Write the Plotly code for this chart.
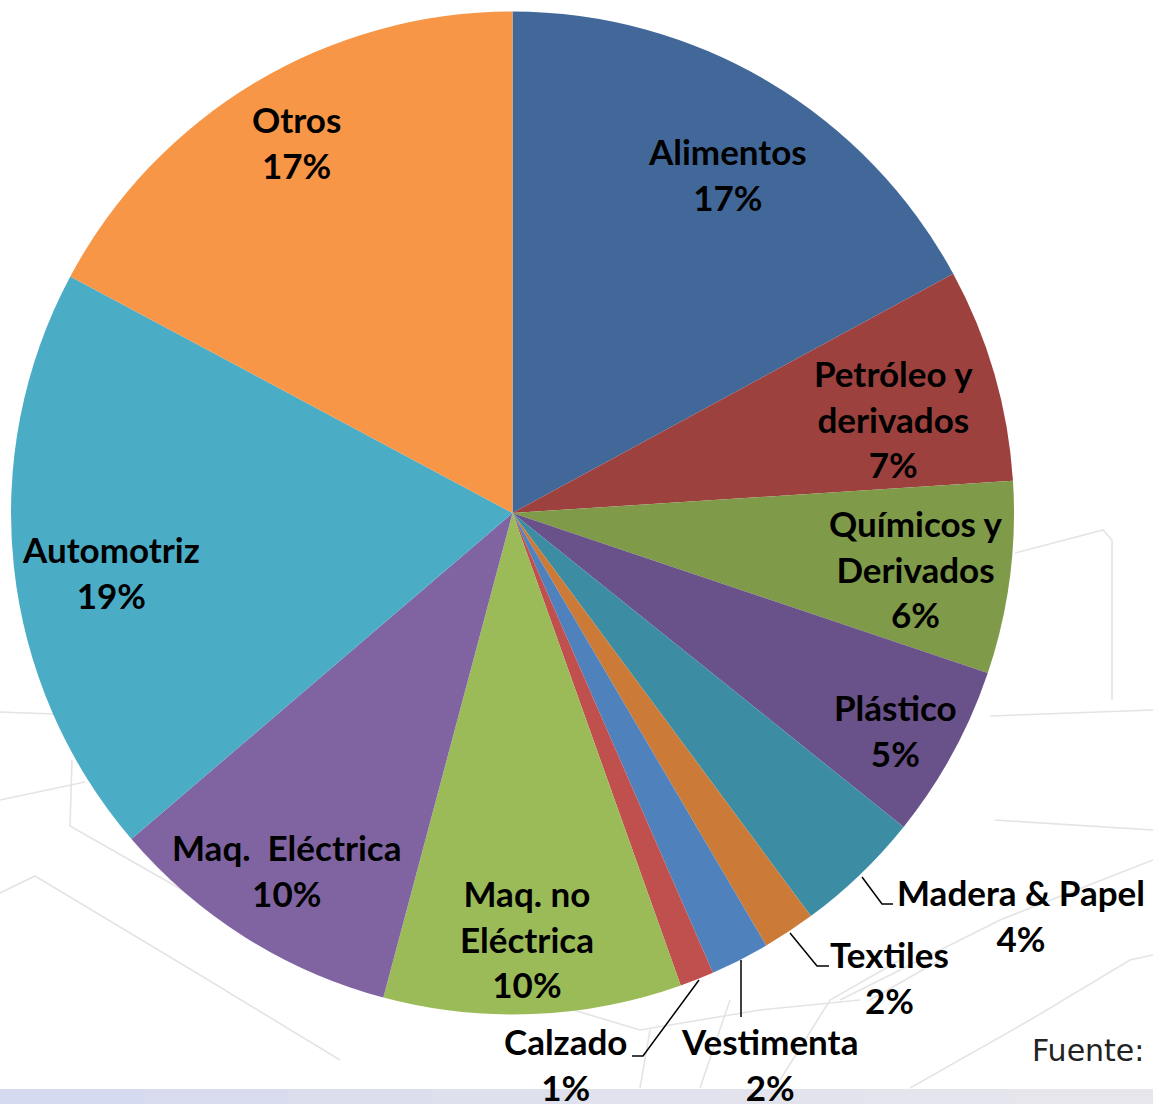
"""Pie chart: export composition by sector (Excel-style labels with leader lines)."""
import plotly.graph_objects as go

W, H = 1153, 1104

# --- data -------------------------------------------------------------------
sectors = [
    "Alimentos", "Petróleo y derivados", "Químicos y Derivados", "Plástico",
    "Madera & Papel", "Textiles", "Vestimenta", "Calzado",
    "Maq. no Eléctrica", "Maq. Eléctrica", "Automotriz", "Otros",
]
shares = [17.1, 6.9, 6.2, 5.6, 4.1, 1.7, 1.9, 1.1, 9.6, 9.6, 19.1, 17.2]
shown_pct = ["17%", "7%", "6%", "5%", "4%", "2%", "2%", "1%", "10%", "10%", "19%", "17%"]
label_lines = [
    "Alimentos", "Petróleo y<br>derivados", "Químicos y<br>Derivados", "Plástico",
    "Madera & Papel", "Textiles", "Vestimenta", "Calzado",
    "Maq. no<br>Eléctrica", "Maq.\u00a0\u00a0Eléctrica", "Automotriz", "Otros",
]

colors = [
    "#426899", "#9d413e", "#7f9a48", "#69518a", "#3c8da3", "#cb7b37",
    "#4f81bd", "#c0504d", "#9bbb59", "#8064a2", "#4bacc6", "#f79646",
]

# label centres in pixels (layout only)
label_pos = {
    "Alimentos": (727, 174), "Petróleo y derivados": (894, 418),
    "Químicos y Derivados": (916, 568), "Plástico": (895, 730),
    "Madera & Papel": (1021, 915), "Textiles": (889, 977),
    "Vestimenta": (769, 1064), "Calzado": (565, 1064),
    "Maq. no Eléctrica": (527, 938), "Maq. Eléctrica": (286, 870),
    "Automotriz": (111, 572), "Otros": (296, 142),
}

# leader lines (pixel polylines) for the small outer slices
leaders = [
    [(862, 877), (882, 904), (893, 904)],
    [(790, 933), (817, 966), (829, 966)],
    [(741, 960), (741, 1017)],
    [(699, 980), (643, 1056), (632, 1056)],
]

# faint watermark strokes in the background
watermark = [
    [(0, 712), (160, 718)],
    [(0, 800), (85, 782)],
    [(72, 760), (70, 826), (200, 900), (330, 975)],
    [(0, 893), (35, 876), (200, 975), (340, 1060)],
    [(1015, 553), (1103, 530), (1112, 540), (1112, 700)],
    [(990, 716), (1153, 710)],
    [(995, 820), (1153, 830)],
    [(840, 1000), (1000, 920), (1153, 860)],
    [(910, 1088), (1030, 1020), (1130, 960), (1153, 955)],
    [(870, 1000), (940, 960)],
    [(780, 1080), (830, 1000), (900, 960)],
    [(540, 1000), (640, 1030), (760, 1010), (860, 1000)],
    [(700, 1088), (730, 1000)],
    [(640, 1088), (650, 1030)],
]


def px(x):
    return x / W


def py(y):
    return 1 - y / H


fig = go.Figure(go.Pie(
    labels=sectors,
    values=shares,
    sort=False,
    direction="clockwise",
    rotation=0,
    marker=dict(colors=colors, line=dict(width=0)),
    textinfo="none",
    hoverinfo="skip",
    showlegend=False,
    domain=dict(x=[px(11), px(1014)], y=[py(1014.5), py(11.5)]),
))

shapes = []
for pts in watermark:
    path = "M " + " L ".join(f"{px(x)},{py(y)}" for x, y in pts)
    shapes.append(dict(type="path", xref="paper", yref="paper", path=path,
                       line=dict(color="#e4e4e4", width=1.6), layer="below"))

# bottom band, light lavender fading to grey
band = ["#d6daf0", "#d9dcef", "#dcdeee", "#dfe0ee", "#e1e2ed", "#e3e3ed", "#e5e5ed", "#e6e6ec"]
seg = W / len(band)
for i, c in enumerate(band):
    shapes.append(dict(type="rect", xref="paper", yref="paper",
                       x0=px(i * seg), x1=px((i + 1) * seg + 1), y0=0, y1=py(1089),
                       fillcolor=c, line=dict(width=0), layer="below"))

for pts in leaders:
    path = "M " + " L ".join(f"{px(x)},{py(y)}" for x, y in pts)
    shapes.append(dict(type="path", xref="paper", yref="paper", path=path,
                       line=dict(color="#000000", width=1.5), layer="above"))

annotations = []
for name, text, pct in zip(sectors, label_lines, shown_pct):
    x, y = label_pos[name]
    annotations.append(dict(
        x=px(x), y=py(y), xref="paper", yref="paper",
        text=f"{text}<br>{pct}", showarrow=False,
        xanchor="center", yanchor="middle", align="center",
        font=dict(family="Lato", size=35, color="#000000", weight="bold"),
    ))

annotations.append(dict(
    x=px(1030), y=py(1050), xref="paper", yref="paper", text="Fuente:",
    showarrow=False, xanchor="left", yanchor="middle",
    font=dict(family="DejaVu Sans", size=30, color="#222222"),
))

fig.update_layout(
    width=W, height=H,
    margin=dict(l=0, r=0, t=0, b=0),
    paper_bgcolor="#ffffff",
    plot_bgcolor="#ffffff",
    shapes=shapes,
    annotations=annotations,
)

fig.write_html(
    "out.html",
    config={"displayModeBar": False},
    post_script="document.body.style.margin='0';",
)
